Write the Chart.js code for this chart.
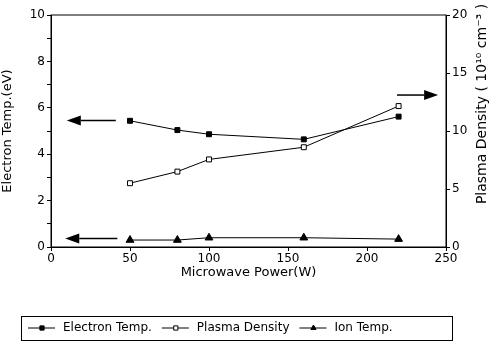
<!DOCTYPE html>
<html>
<head>
<meta charset="utf-8">
<script src="https://cdn.jsdelivr.net/npm/chart.js@4/dist/chart.umd.min.js"></script>
<style>
  html, body { margin: 0; padding: 0; background: #fff; }
</style>
</head>
<body>
<canvas id="myChart" width="491" height="347"></canvas>
<script>
// data
var power = [50, 80, 100, 160, 220];
var electronTemp = [5.44, 5.04, 4.86, 4.64, 5.62];
var plasmaDensity = [5.5, 6.5, 7.55, 8.6, 12.15];
var ionTemp = [0.3, 0.3, 0.4, 0.4, 0.34];

// arrows pointing at the axis each curve belongs to: [fromX, toX, y, axis]
var arrows = [
    [41, 10, 5.45, 'y'],
    [42, 9, 0.37, 'y'],
    [219, 245, 13.1, 'y2']
];

var FONT = "'DejaVu Sans', Verdana, sans-serif";
Chart.defaults.font.family = FONT;
Chart.defaults.color = '#000';

function drawArrow(ctx, x1, x2, y) {
    var dir = x2 > x1 ? 1 : -1;
    var head = 14;
    ctx.beginPath();
    ctx.moveTo(x1, y);
    ctx.lineTo(x2 - dir * head, y);
    ctx.lineWidth = 1.5;
    ctx.stroke();
    ctx.beginPath();
    ctx.moveTo(x2, y);
    ctx.lineTo(x2 - dir * head, y - 5);
    ctx.lineTo(x2 - dir * head, y + 5);
    ctx.closePath();
    ctx.fill();
}

var extras = {
    id: 'extras',
    afterDraw: function (chart) {
        var ctx = chart.ctx;
        var area = chart.chartArea;
        ctx.save();
        ctx.strokeStyle = '#000';
        ctx.fillStyle = '#000';

        // frame
        ctx.lineWidth = 1;
        ctx.strokeRect(area.left, area.top, area.right - area.left, area.bottom - area.top);

        // arrows
        arrows.forEach(function (a) {
            var xs = chart.scales.x;
            var ys = chart.scales[a[3]];
            drawArrow(ctx, xs.getPixelForValue(a[0]), xs.getPixelForValue(a[1]), ys.getPixelForValue(a[2]));
        });

        // right axis title, reads bottom to top
        ctx.save();
        ctx.translate(area.right + 36, area.top + 89);
        ctx.rotate(-Math.PI / 2);
        ctx.textAlign = 'center';
        ctx.textBaseline = 'middle';
        ctx.font = '14px ' + FONT;
        ctx.fillText('Plasma Density ( 10\u00b9\u2070 cm\u207b\u00b3 )', 0, 0);
        ctx.restore();

        // legend in a box
        var ly = 328;
        var x = 28;
        ctx.font = '12px ' + FONT;
        ctx.textBaseline = 'middle';
        ctx.textAlign = 'left';
        chart.data.datasets.forEach(function (ds) {
            ctx.lineWidth = 1;
            ctx.strokeStyle = '#000';
            ctx.beginPath();
            ctx.moveTo(x, ly);
            ctx.lineTo(x + 27, ly);
            ctx.stroke();
            ctx.fillStyle = ds.pointBackgroundColor;
            Chart.helpers.drawPoint(ctx, { pointStyle: ds.pointStyle, radius: 3, rotation: 0, borderWidth: 1 }, x + 14, ly);
            ctx.fillStyle = '#000';
            ctx.fillText(ds.label, x + 35, ly);
            x += 35 + ctx.measureText(ds.label).width + 10;
        });
        ctx.lineWidth = 1;
        ctx.strokeRect(21.5, 316.5, 431, 24);
        ctx.restore();
    }
};

function series(label, values, axis, style, fill, radius) {
    return {
        label: label,
        data: power.map(function (p, i) { return { x: p, y: values[i] }; }),
        yAxisID: axis,
        borderColor: '#000',
        borderWidth: 1,
        pointStyle: style,
        pointRadius: radius,
        pointBackgroundColor: fill,
        pointBorderColor: '#000',
        pointBorderWidth: 1,
        tension: 0,
        fill: false
    };
}

var ctx = document.getElementById('myChart').getContext('2d');
var myChart = new Chart(ctx, {
    type: 'line',
    data: {
        datasets: [
            series('Electron Temp.', electronTemp, 'y', 'rect', '#000', 3.5),
            series('Plasma Density', plasmaDensity, 'y2', 'rect', '#fff', 3.5),
            series('Ion Temp.', ionTemp, 'y', 'triangle', '#000', 4.5)
        ]
    },
    options: {
        responsive: false,
        animation: false,
        layout: { padding: { top: 15, bottom: 62, left: 0, right: 0 } },
        plugins: {
            legend: { display: false },
            tooltip: { enabled: false }
        },
        scales: {
            x: {
                type: 'linear',
                min: 0,
                max: 250,
                ticks: { stepSize: 50, font: { size: 12 }, padding: 1 },
                grid: { drawOnChartArea: false, tickLength: 4, color: '#000' },
                border: { color: '#000' },
                title: { display: true, text: 'Microwave Power(W)', font: { size: 13 }, padding: { top: 2, bottom: 5 } },
                afterFit: function (s) { s.height = 38; }
            },
            y: {
                position: 'left',
                min: 0,
                max: 10,
                ticks: {
                    stepSize: 1,
                    font: { size: 12 },
                    padding: 2,
                    callback: function (v) { return v % 2 === 0 ? v : ''; }
                },
                grid: { drawOnChartArea: false, tickLength: 4, color: '#000' },
                border: { color: '#000' },
                title: { display: true, text: 'Electron Temp.(eV)', font: { size: 13 }, padding: 0 },
                afterFit: function (s) { s.width = 51; }
            },
            y2: {
                position: 'right',
                min: 0,
                max: 20,
                ticks: { stepSize: 5, font: { size: 12 }, padding: 2 },
                grid: { drawOnChartArea: false, tickLength: 4, color: '#000' },
                border: { color: '#000' },
                afterFit: function (s) { s.width = 45; }
            }
        }
    },
    plugins: [extras]
});
</script>
</body>
</html>
